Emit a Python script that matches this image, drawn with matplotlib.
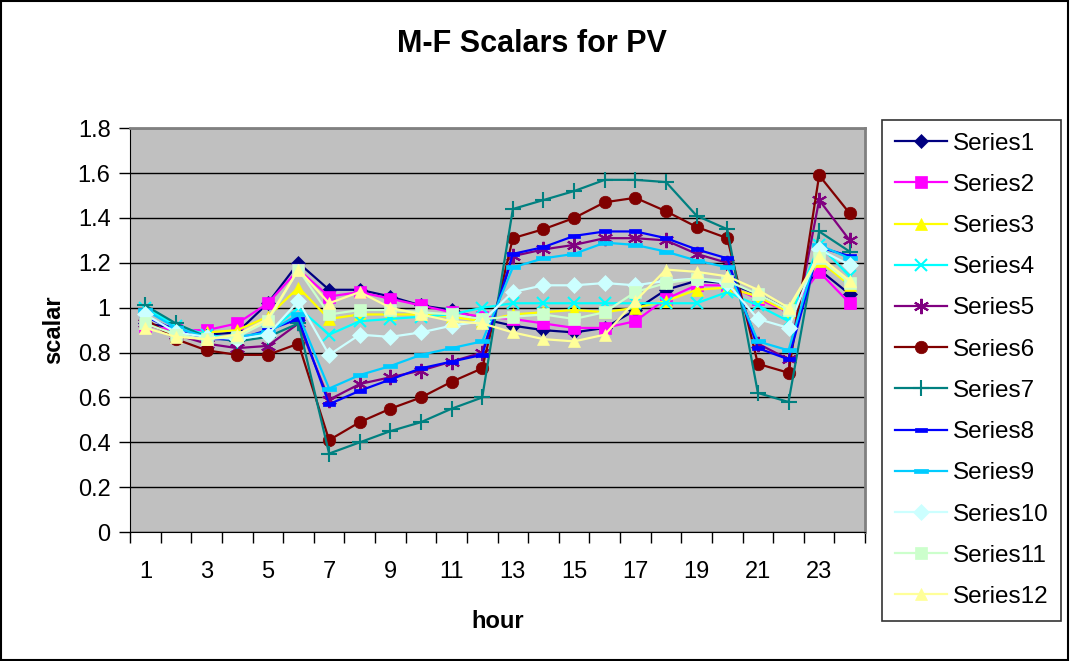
import matplotlib
matplotlib.use("Agg")
import matplotlib.pyplot as plt
from matplotlib.patches import Rectangle

plt.rcParams['font.family'] = ['Liberation Sans', 'DejaVu Sans']

hours = list(range(1, 25))
series_names = ["Series%d" % i for i in range(1, 13)]

s1 = [0.93, 0.91, 0.88, 0.89, 1.02, 1.20, 1.08, 1.08, 1.05, 1.01, 0.99, 0.95,
      0.92, 0.90, 0.89, 0.91, 0.99, 1.08, 1.12, 1.11, 1.06, 0.99, 1.17, 1.06]
s2 = [0.92, 0.90, 0.90, 0.93, 1.02, 1.17, 1.05, 1.07, 1.04, 1.01, 0.98, 0.96,
      0.95, 0.93, 0.91, 0.91, 0.94, 1.04, 1.10, 1.10, 1.04, 0.98, 1.16, 1.02]
s3 = [0.93, 0.88, 0.89, 0.90, 0.96, 1.09, 0.95, 0.97, 0.97, 0.97, 0.96, 0.94,
      0.97, 0.98, 0.99, 0.98, 1.00, 1.03, 1.08, 1.09, 1.05, 0.98, 1.21, 1.10]
s4 = [1.00, 0.92, 0.88, 0.86, 0.89, 1.00, 0.88, 0.94, 0.95, 0.96, 0.97, 1.00,
      1.02, 1.02, 1.02, 1.02, 1.02, 1.02, 1.02, 1.07, 1.01, 0.94, 1.28, 1.14]
s5 = [0.93, 0.88, 0.84, 0.82, 0.83, 0.93, 0.59, 0.66, 0.69, 0.72, 0.76, 0.80,
      1.23, 1.26, 1.28, 1.31, 1.31, 1.30, 1.24, 1.20, 0.84, 0.77, 1.48, 1.30]
s6 = [0.95, 0.86, 0.81, 0.79, 0.79, 0.84, 0.41, 0.49, 0.55, 0.60, 0.67, 0.73,
      1.31, 1.35, 1.40, 1.47, 1.49, 1.43, 1.36, 1.31, 0.75, 0.71, 1.59, 1.42]
s7 = [1.01, 0.93, 0.87, 0.85, 0.87, 0.93, 0.35, 0.40, 0.45, 0.49, 0.55, 0.60,
      1.44, 1.48, 1.52, 1.57, 1.57, 1.56, 1.41, 1.35, 0.62, 0.58, 1.34, 1.25]
s8 = [0.96, 0.90, 0.86, 0.86, 0.90, 0.95, 0.57, 0.63, 0.68, 0.73, 0.76, 0.79,
      1.24, 1.27, 1.32, 1.34, 1.34, 1.31, 1.26, 1.22, 0.82, 0.77, 1.27, 1.23]
s9 = [0.99, 0.91, 0.87, 0.87, 0.89, 0.97, 0.64, 0.70, 0.74, 0.79, 0.82, 0.85,
      1.18, 1.22, 1.24, 1.29, 1.28, 1.25, 1.21, 1.18, 0.85, 0.81, 1.28, 1.22]
s10 = [0.97, 0.89, 0.87, 0.86, 0.88, 1.03, 0.79, 0.88, 0.87, 0.89, 0.92, 0.94,
       1.07, 1.10, 1.10, 1.11, 1.10, 1.12, 1.13, 1.11, 0.95, 0.91, 1.26, 1.19]
s11 = [0.93, 0.88, 0.86, 0.87, 0.94, 1.17, 0.97, 0.99, 0.99, 0.98, 0.97, 0.95,
       0.96, 0.97, 0.95, 0.98, 1.07, 1.11, 1.13, 1.12, 1.06, 0.99, 1.22, 1.11]
s12 = [0.91, 0.87, 0.86, 0.88, 0.95, 1.17, 1.02, 1.07, 1.00, 0.97, 0.94, 0.93,
       0.89, 0.86, 0.85, 0.88, 1.03, 1.17, 1.16, 1.14, 1.08, 1.00, 1.23, 1.12]

all_series = [s1, s2, s3, s4, s5, s6, s7, s8, s9, s10, s11, s12]

colors = ["#000080", "#FF00FF", "#FFFF00", "#00FFFF", "#800080", "#800000",
          "#008080", "#0000FF", "#00CCFF", "#CCFFFF", "#CCFFCC", "#FFFF99"]
dash_mark = [(-1, -0.35), (1, -0.35), (1, 0.35), (-1, 0.35), (-1, -0.35)]
markers = ["D", "s", "^", "x", (6, 2, 0), "o", "+", dash_mark, dash_mark, "D", "s", "^"]
msizes = [7, 8, 9, 9, 11, 9, 11, 8, 10, 8, 8, 9]

fig = plt.figure(figsize=(10.7, 6.61), dpi=100)
fig.patch.set_facecolor("white")
# outer chart border
fig.patches.append(Rectangle((0.001, 0.002), 0.997, 0.996, transform=fig.transFigure,
                             fill=False, edgecolor="black", linewidth=1.5))

ax = fig.add_axes([0.1215, 0.195, 0.687, 0.611])
ax.set_facecolor("#C0C0C0")

for i, vals in enumerate(all_series):
    mew = 1.5 if markers[i] in ("x", "+") or i == 4 else 0.5
    ax.plot(hours, vals, color=colors[i], linewidth=1.6, marker=markers[i],
            markersize=msizes[i], markerfacecolor=colors[i], markeredgecolor=colors[i],
            markeredgewidth=mew, label=series_names[i], zorder=3)

ax.set_xlim(0.5, 24.5)
ax.set_ylim(0, 1.8)
yt = [0, 0.2, 0.4, 0.6, 0.8, 1.0, 1.2, 1.4, 1.6, 1.8]
ax.set_yticks(yt)
ax.set_yticklabels(["0", "0.2", "0.4", "0.6", "0.8", "1", "1.2", "1.4", "1.6", "1.8"])
ax.set_xticks(range(1, 25, 2))
ax.set_xticklabels([str(h) for h in range(1, 25, 2)])
# tick marks sit between the hours
ax.set_xticks([h + 0.5 for h in range(0, 25)], minor=True)
ax.tick_params(axis="x", which="major", length=0, labelsize=17, pad=21)
ax.tick_params(axis="x", which="minor", length=8, width=1, direction="out")
ax.tick_params(axis="y", length=8, width=1, direction="out", labelsize=17, pad=6)
ax.yaxis.grid(True, color="black", linewidth=1)
ax.set_axisbelow(True)
for side in ["top", "right"]:
    ax.spines[side].set_color("#808080")
    ax.spines[side].set_linewidth(2)
ax.spines["left"].set_color("black")
ax.spines["bottom"].set_color("black")

ax.set_xlabel("hour", fontsize=17, fontweight="bold", labelpad=19)
ax.set_ylabel("scalar", fontsize=17, fontweight="bold", labelpad=9)
fig.text(0.497, 0.933, "M-F Scalars for PV", ha="center", va="center",
         fontsize=22, fontweight="bold")

leg = fig.legend(loc="upper left", bbox_to_anchor=(0.8243, 0.8185), fontsize=17.5,
                 frameon=True, fancybox=False, edgecolor="black", handlelength=2.15,
                 labelspacing=0.79, borderpad=0.52, handletextpad=0.25,
                 borderaxespad=0)
leg.get_frame().set_linewidth(1.2)

fig.savefig("out.png", dpi=100)
